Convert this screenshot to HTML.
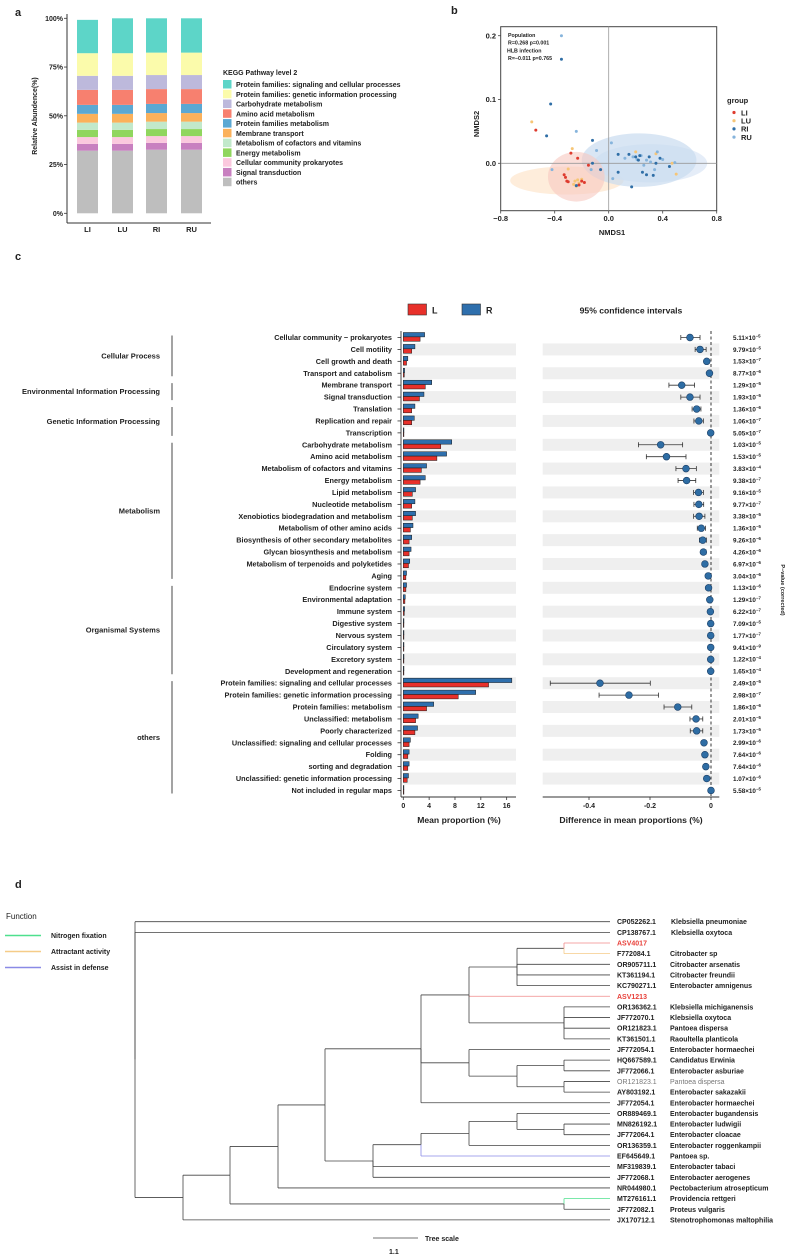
<!DOCTYPE html>
<html><head><meta charset="utf-8">
<style>
html,body{margin:0;padding:0;background:#fff;}
svg{display:block;font-family:"Liberation Sans",Arial,sans-serif;}
text{fill:#222;}
</style></head>
<body>
<svg id="fig" xmlns="http://www.w3.org/2000/svg" width="790" height="1259" viewBox="0 0 790 1259">
<text x="15" y="16" font-size="11" font-weight="bold">a</text>
<text x="451" y="14" font-size="11" font-weight="bold">b</text>
<text x="15" y="260" font-size="11" font-weight="bold">c</text>
<text x="15" y="888" font-size="11" font-weight="bold">d</text>
<g id="pa"></g>
<g id="pb"></g>
<g id="pc"></g>
<g id="pd"></g>
</svg>
<script>
// ---------- Panel a data ----------
const groupsA = ['LI','LU','RI','RU'];
const pathwaysA = ['Protein families: signaling and cellular processes','Protein families: genetic information processing','Carbohydrate metabolism','Amino acid metabolism','Protein families metabolism','Membrane transport','Metabolism of cofactors and vitamins','Energy metabolism','Cellular community prokaryotes','Signal transduction','others'];
const colorsA = ['#5dd5c8','#fbfbab','#bdb9dc','#f7806f','#5ba8d3','#fbb15b','#c2e9cb','#90d65e','#fbc8de','#c880c0','#bebebe'];
const valsLI = [17.1,11.6,7.2,7.7,4.6,4.5,3.7,3.7,3.5,3.5,32.1];
const valsLU = [17.9,11.6,7.2,7.7,4.6,4.5,3.7,3.7,3.5,3.5,32.1];
const valsRI = [17.6,11.5,7.2,7.6,4.7,4.4,3.8,3.6,3.5,3.5,32.6];
const valsRU = [17.6,11.5,7.2,7.6,4.7,4.4,3.8,3.6,3.5,3.5,32.6];
const ticksA = [0,25,50,75,100];

// ---------- Panel b data ----------
const liX=[-0.54,-0.28,-0.33,-0.32,-0.30,-0.20,-0.18,-0.23,-0.15,-0.31,-0.22];
const liY=[0.052,0.016,-0.018,-0.022,-0.029,-0.028,-0.030,0.008,-0.003,-0.028,-0.034];
const luX=[-0.57,-0.27,-0.25,-0.22,-0.26,-0.20,0.50,0.35,0.47,-0.30,-0.24,-0.23,0.20];
const luY=[0.065,0.023,-0.028,-0.031,-0.033,-0.025,-0.017,0.015,0.000,-0.009,-0.036,-0.026,0.018];
const riX=[-0.35,-0.43,-0.46,-0.12,0.07,0.15,0.20,0.22,0.25,0.28,0.33,0.17,0.07,-0.06,0.45,0.38,0.35,-0.12,-0.24,0.30,0.23];
const riY=[0.163,0.093,0.043,0.036,0.014,0.014,0.010,0.005,-0.014,-0.018,-0.019,-0.037,-0.014,-0.010,-0.005,0.008,0.000,0.000,-0.035,0.010,0.012];
const ruX=[-0.35,-0.24,-0.09,0.02,0.03,-0.42,-0.13,0.18,0.24,0.28,0.31,0.36,0.40,0.49,0.26,0.21,0.34,0.12];
const ruY=[0.200,0.050,0.020,0.032,-0.024,-0.010,-0.010,0.010,0.012,0.005,0.002,0.018,0.006,0.001,-0.003,0.006,-0.010,0.008];
const ticksBX=[-0.8,-0.4,0.0,0.4,0.8];
const ticksBY=[0.0,0.1,0.2];

// ---------- Panel c data ----------
const pathwaysC=['Cellular community \u2212 prokaryotes','Cell motility','Cell growth and death','Transport and catabolism','Membrane transport','Signal transduction','Translation','Replication and repair','Transcription','Carbohydrate metabolism','Amino acid metabolism','Metabolism of cofactors and vitamins','Energy metabolism','Lipid metabolism','Nucleotide metabolism','Xenobiotics biodegradation and metabolism','Metabolism of other amino acids','Biosynthesis of other secondary metabolites','Glycan biosynthesis and metabolism','Metabolism of terpenoids and polyketides','Aging','Endocrine system','Environmental adaptation','Immune system','Digestive system','Nervous system','Circulatory system','Excretory system','Development and regeneration','Protein families: signaling and cellular processes','Protein families: genetic information processing','Protein families: metabolism','Unclassified: metabolism','Poorly characterized','Unclassified: signaling and cellular processes','Folding','sorting and degradation','Unclassified: genetic information processing','Not included in regular maps'];
const propR=[3.3,1.8,0.7,0.2,4.4,3.2,1.8,1.7,0.1,7.5,6.7,3.6,3.4,1.9,1.8,1.9,1.5,1.3,1.2,1.0,0.5,0.5,0.3,0.2,0.1,0.1,0.1,0.1,0.1,16.8,11.2,4.7,2.3,2.2,1.1,0.9,0.9,0.8,0.05];
const propL=[2.6,1.3,0.5,0.15,3.4,2.5,1.3,1.3,0.08,5.8,5.2,2.8,2.6,1.4,1.3,1.4,1.1,0.9,0.9,0.8,0.4,0.4,0.25,0.15,0.08,0.08,0.08,0.08,0.08,13.2,8.5,3.6,1.9,1.8,0.9,0.7,0.7,0.6,0.04];
const diffC=[-0.069,-0.036,-0.014,-0.005,-0.096,-0.069,-0.047,-0.040,-0.001,-0.165,-0.146,-0.082,-0.080,-0.041,-0.040,-0.039,-0.032,-0.027,-0.025,-0.020,-0.009,-0.008,-0.004,-0.002,-0.001,-0.001,-0.001,-0.001,-0.001,-0.364,-0.269,-0.109,-0.049,-0.047,-0.023,-0.020,-0.017,-0.014,0.000];
const ciLo=[-0.099,-0.052,-0.019,-0.008,-0.138,-0.099,-0.062,-0.056,-0.003,-0.238,-0.212,-0.115,-0.108,-0.057,-0.056,-0.057,-0.045,-0.038,-0.033,-0.026,-0.013,-0.012,-0.007,-0.004,-0.003,-0.003,-0.003,-0.003,-0.003,-0.527,-0.367,-0.154,-0.069,-0.068,-0.030,-0.026,-0.023,-0.020,-0.002];
const ciHi=[-0.036,-0.016,-0.009,-0.002,-0.054,-0.036,-0.033,-0.025,0.001,-0.093,-0.082,-0.048,-0.050,-0.025,-0.024,-0.020,-0.018,-0.015,-0.016,-0.014,-0.005,-0.004,-0.001,0.001,0.001,0.001,0.001,0.001,0.001,-0.199,-0.172,-0.063,-0.027,-0.027,-0.016,-0.014,-0.012,-0.009,0.002];
const pMant=['5.11','9.79','1.53','8.77','1.29','1.93','1.36','1.06','5.05','1.03','1.53','3.83','9.38','9.16','9.77','3.38','1.36','9.26','4.26','6.97','3.04','1.13','1.29','6.22','7.09','1.77','9.41','1.22','1.65','2.49','2.98','1.86','2.01','1.73','2.99','7.64','7.64','1.07','5.58'];
const pExp=['5','5','7','6','5','5','6','7','7','5','5','4','7','5','7','5','5','6','6','6','6','6','7','7','5','7','9','4','4','5','7','6','5','5','6','6','6','6','5'];
const ticksBar=[0,4,8,12,16];
const ticksDiff=[-0.4,-0.2,0];
const catNames=['Cellular Process','Environmental Information Processing','Genetic Information Processing','Metabolism','Organismal Systems','others'];
const catStart=[0,4,6,9,21,29];
const catEnd=[3,5,8,20,28,38];

// ---------- Panel d data ----------
const leafAcc=['CP052262.1','CP138767.1','ASV4017','F772084.1','OR905711.1','KT361194.1','KC790271.1','ASV1213','OR136362.1','JF772070.1','OR121823.1','KT361501.1','JF772054.1','HQ667589.1','JF772066.1','OR121823.1','AY803192.1','JF772054.1','OR889469.1','MN826192.1','JF772064.1','OR136359.1','EF645649.1','MF319839.1','JF772068.1','NR044980.1','MT276161.1','JF772082.1','JX170712.1'];
const leafSp=['Klebsiella pneumoniae','Klebsiella oxytoca','','Citrobacter sp','Citrobacter arsenatis','Citrobacter freundii','Enterobacter amnigenus','','Klebsiella michiganensis','Klebsiella oxytoca','Pantoea dispersa','Raoultella planticola','Enterobacter hormaechei','Candidatus Erwinia','Enterobacter asburiae','Pantoea dispersa','Enterobacter sakazakii','Enterobacter hormaechei','Enterobacter bugandensis','Enterobacter ludwigii','Enterobacter cloacae','Enterobacter roggenkampii','Pantoea sp.','Enterobacter tabaci','Enterobacter aerogenes','Pectobacterium atrosepticum','Providencia rettgeri','Proteus vulgaris','Stenotrophomonas maltophilia'];
const leafBranchColor={2:'#f08a8a',3:'#f5cc88',7:'#f08a8a',22:'#8a8ae6',26:'#4ee08e'};

const NS='http://www.w3.org/2000/svg';
function mk(tag,attrs,parent,txt){const e=document.createElementNS(NS,tag);for(const k in attrs)e.setAttribute(k,attrs[k]);if(txt!==undefined)e.textContent=txt;parent.appendChild(e);return e;}

// ================= Panel a =================
(function(){
 const g=document.getElementById('pa');
 const y0=213.3, yTop=18.3, sy=(y0-yTop)/100;
 const yS=v=>y0-v*sy;
 const bx=[77,112,146,181], bw=21;
 const ax=mk('line',{x1:67,y1:14,x2:67,y2:223,stroke:'#333','stroke-width':1},g);
 
 
 const axx=mk('line',{x1:67,y1:223,x2:211,y2:223,stroke:'#333','stroke-width':1},g);
 
 
 ticksA.forEach(t=>{
  const tk=mk('line',{x1:64,y1:yS(t),x2:67,y2:yS(t),stroke:'#333','stroke-width':0.8},g);
  
  
  const tl=mk('text',{x:63,y:yS(t)+2.5,'font-size':7,'font-weight':'bold','text-anchor':'end'},g,t+'%');
  
  
 });
 const all=[valsLI,valsLU,valsRI,valsRU];
 all.forEach((vals,gi)=>{
  let cum=0;
  for(let k=vals.length-1;k>=0;k--){
   const r=mk('rect',{x:bx[gi],y:yS(cum+vals[k]),width:bw,height:vals[k]*sy,fill:colorsA[k]},g);
   
   
   cum+=vals[k];
  }
  const xl=mk('text',{x:bx[gi]+bw/2,y:232,'font-size':7.5,'font-weight':'bold','text-anchor':'middle'},g,groupsA[gi]);
  
  
 });
 const yt=mk('text',{x:0,y:0,'font-size':7,'font-weight':'bold','text-anchor':'middle',transform:'translate(37,116) rotate(-90)'},g,'Relative Abundence(%)');
 
 
 const lt=mk('text',{x:223,y:75,'font-size':7,'font-weight':'bold'},g,'KEGG Pathway level 2');
 
 
 pathwaysA.forEach((p,i)=>{
  const cy=84.5+i*9.77;
  const sq=mk('rect',{x:223,y:cy-4.5,width:8.5,height:8.5,fill:colorsA[i]},g);
  
  
  const t=mk('text',{x:236,y:cy+2.5,'font-size':7,'font-weight':'bold'},g,p);
  
  
 });
})();

// ================= Panel b =================
(function(){
 const g=document.getElementById('pb');
 const X=v=>608.7+v*135, Y=v=>163.3-v*638;
 const ell=[[-0.31,-0.027,0.42,0.022,'#fde6cc',0.7],[0.31,0.0,0.42,0.03,'#dfe9f6',0.8],[0.225,0.005,0.425,0.042,'#c9dcf0',0.7],[-0.24,-0.021,0.21,0.039,'#f7c8c0',0.6]];
 ell.forEach(e=>{
  const el=mk('ellipse',{cx:X(e[0]),cy:Y(e[1]),rx:e[2]*135,ry:e[3]*638,fill:e[4],'fill-opacity':e[5]},g);
  
  
 });
 const box=mk('rect',{x:500.7,y:26.7,width:216,height:184,fill:'none',stroke:'#444','stroke-width':1},g);
 
 
 const vl=mk('line',{x1:X(0),y1:26.7,x2:X(0),y2:210.7,stroke:'#999','stroke-width':0.8},g);
 
 
 const hl=mk('line',{x1:500.7,y1:Y(0),x2:716.7,y2:Y(0),stroke:'#999','stroke-width':0.8},g);
 
 
 const sets=[[luX,luY,'#f6c576','LU'],[ruX,ruY,'#86b4dc','RU'],[liX,liY,'#de3b2f','LI'],[riX,riY,'#2f6ea6','RI']];
 sets.forEach(s=>{
  s[0].forEach((xv,i)=>{
   const c=mk('circle',{cx:X(xv),cy:Y(s[1][i]),r:1.5,fill:s[2]},g);
   
   
  });
 });
 ticksBX.forEach(t=>{
  const tk=mk('line',{x1:X(t),y1:210.7,x2:X(t),y2:213.5,stroke:'#444','stroke-width':0.8},g);
  
  
  const tl=mk('text',{x:X(t),y:221,'font-size':7.5,'font-weight':'bold','text-anchor':'middle'},g,(t<0?'\u2212':'')+Math.abs(t).toFixed(1));
  
  
 });
 ticksBY.forEach(t=>{
  const tk=mk('line',{x1:498,y1:Y(t),x2:500.7,y2:Y(t),stroke:'#444','stroke-width':0.8},g);
  
  
  const tl=mk('text',{x:496,y:Y(t)+2.6,'font-size':7.5,'font-weight':'bold','text-anchor':'end'},g,t.toFixed(1));
  
  
 });
 const xt=mk('text',{x:612,y:235,'font-size':7.5,'font-weight':'bold','text-anchor':'middle'},g,'NMDS1');
 
 
 const yt=mk('text',{x:0,y:0,'font-size':7.5,'font-weight':'bold','text-anchor':'middle',transform:'translate(479,124) rotate(-90)'},g,'NMDS2');
 
 
 const ann=['Population','R=0.268   p=0.001','HLB infection','R=\u22120.011 p=0.765'];
 const annX=[508,508,507,508];
 ann.forEach((a,i)=>{
  const t=mk('text',{x:annX[i],y:37+i*7.7,'font-size':5.3,'font-weight':'bold'},g,a);
  
  
 });
 const gt=mk('text',{x:727,y:103,'font-size':7.5,'font-weight':'bold'},g,'group');
 
 
 const lg=[['LI','#de3b2f'],['LU','#f6c576'],['RI','#2f6ea6'],['RU','#86b4dc']];
 lg.forEach((l,i)=>{
  const cy=112.5+i*8.2;
  const c=mk('circle',{cx:734,cy:cy,r:1.6,fill:l[1]},g);
  
  
  const t=mk('text',{x:741,y:cy+2.8,'font-size':7.5,'font-weight':'bold'},g,l[0]);
  
  
 });
})();

// ================= Panel c =================
(function(){
 const g=document.getElementById('pc');
 const rowY=i=>337.5+i*11.92;
 const bX=v=>403.3+v*6.46;
 const dX=v=>711+v*305;
 pathwaysC.forEach((p,i)=>{
  if(i%2===1){
   const b1=mk('rect',{x:403,y:rowY(i)-6,width:113,height:12,fill:'#efefef'},g);
   
   
   const b2=mk('rect',{x:542.7,y:rowY(i)-6,width:176.6,height:12,fill:'#efefef'},g);
   
   
  }
 });
 const ya=mk('line',{x1:401,y1:331,x2:401,y2:797,stroke:'#333','stroke-width':0.9},g);
 
 
 const xa=mk('line',{x1:401,y1:797,x2:516,y2:797,stroke:'#333','stroke-width':0.9},g);
 
 
 const xa2=mk('line',{x1:542.7,y1:797,x2:719.3,y2:797,stroke:'#333','stroke-width':0.9},g);
 
 
 const dl=mk('line',{x1:dX(0),y1:331,x2:dX(0),y2:797,stroke:'#222','stroke-width':0.9,'stroke-dasharray':'3,2.5'},g);
 
 
 pathwaysC.forEach((p,i)=>{
  const y=rowY(i);
  const tk=mk('line',{x1:397.5,y1:y,x2:401,y2:y,stroke:'#333','stroke-width':0.8},g);
  
  
  const lb=mk('text',{x:392,y:y+2.5,'font-size':7.3,'font-weight':'bold','text-anchor':'end'},g,p);
  
  
  const rb=mk('rect',{x:bX(0),y:y-5,width:Math.max(propR[i]*6.46,0.6),height:4.4,fill:'#2e6fad',stroke:'#1b1b1b','stroke-width':0.5},g);
  
  
  const lbar=mk('rect',{x:bX(0),y:y-0.6,width:Math.max(propL[i]*6.46,0.6),height:4.4,fill:'#e8302a',stroke:'#1b1b1b','stroke-width':0.5},g);
  
  
  const ci=mk('line',{x1:dX(ciLo[i]),y1:y,x2:dX(ciHi[i]),y2:y,stroke:'#333','stroke-width':0.8},g);
  
  
  const c1=mk('line',{x1:dX(ciLo[i]),y1:y-2.5,x2:dX(ciLo[i]),y2:y+2.5,stroke:'#333','stroke-width':0.8},g);
  
  
  const c2=mk('line',{x1:dX(ciHi[i]),y1:y-2.5,x2:dX(ciHi[i]),y2:y+2.5,stroke:'#333','stroke-width':0.8},g);
  
  
  const pt=mk('circle',{cx:dX(diffC[i]),cy:y,r:3.4,fill:'#2e6da4',stroke:'#1c3f66','stroke-width':0.6},g);
  
  
  const pv=mk('text',{x:733,y:y+2.4,'font-size':6.3,'font-weight':'bold'},g);
  
  
  const s1=mk('tspan',{},pv,pMant[i]+'\u00d710');
  const s2=mk('tspan',{dy:-2.5,'font-size':4.3},pv,'\u2212'+pExp[i]);
 });
 ticksBar.forEach(t=>{
  const tk=mk('line',{x1:bX(t),y1:797,x2:bX(t),y2:800,stroke:'#333','stroke-width':0.8},g);
  
  
  const tl=mk('text',{x:bX(t),y:808,'font-size':7,'font-weight':'bold','text-anchor':'middle'},g,String(t));
  
  
 });
 ticksDiff.forEach(t=>{
  const tk=mk('line',{x1:dX(t),y1:797,x2:dX(t),y2:800,stroke:'#333','stroke-width':0.8},g);
  
  
  const tl=mk('text',{x:dX(t),y:808,'font-size':7,'font-weight':'bold','text-anchor':'middle'},g,t===0?'0':'-'+Math.abs(t).toFixed(1));
  
  
 });
 catNames.forEach((c,k)=>{
  const y1=rowY(catStart[k])-2, y2=rowY(catEnd[k])+3;
  const ln=mk('line',{x1:172,y1:y1,x2:172,y2:y2,stroke:'#333','stroke-width':0.9},g);
  
  
  const t=mk('text',{x:160,y:(y1+y2)/2+2.5,'font-size':7.5,'font-weight':'bold','text-anchor':'end'},g,c);
  
  
 });
})();
</script>
<script>
(function(){
 const g=document.getElementById('pc');
 const items=[
  ['rect',{x:408,y:304,width:18.5,height:11,fill:'#e8302a',stroke:'#333','stroke-width':0.6},'c-legend-swatch-L'],
  ['rect',{x:462,y:304,width:18.5,height:11,fill:'#2e6fad',stroke:'#333','stroke-width':0.6},'c-legend-swatch-R']];
 items.forEach(it=>{
  const e=mk(it[0],it[1],g);
  
  
 });
 const tL=mk('text',{x:432,y:313.5,'font-size':9,'font-weight':'bold'},g,'L');
 
 
 const tR=mk('text',{x:486,y:313.5,'font-size':9,'font-weight':'bold'},g,'R');
 
 
 const ci=mk('text',{x:631,y:313.5,'font-size':8.6,'font-weight':'bold','text-anchor':'middle'},g,'95% confidence intervals');
 
 
 const xt1=mk('text',{x:459,y:823,'font-size':8.6,'font-weight':'bold','text-anchor':'middle'},g,'Mean proportion (%)');
 
 
 const xt2=mk('text',{x:631,y:823,'font-size':8.6,'font-weight':'bold','text-anchor':'middle'},g,'Difference in mean proportions (%)');
 
 
 const pv=mk('text',{x:0,y:0,'font-size':5.5,'font-weight':'bold','text-anchor':'middle',transform:'translate(781,590) rotate(90)'},g,'P\u2212value (corrected)');
 
 
})();

// ================= Panel d =================
(function(){
 const g=document.getElementById('pd');
 const leafY=i=>921.7+i*10.65;
 const leafEnd=610;
 const tree={x:135,c:[0,1,{x:183,c:[{x:230,c:[{x:278,c:[{x:325,c:[
   {x:421,c:[{x:469,c:[{x:517,c:[{x:564,c:[2,3]},4,5,6]},7,{x:564,c:[8,9,10,11]}]},{x:469,c:[12,{x:517,c:[{x:564,c:[13,14]},{x:564,c:[15,16]}]}]},17]},
   {x:373,c:[{x:421,c:[{x:469,c:[{x:517,c:[18,{x:564,c:[19,20]}]},21]},22]},23,24]}
  ]},25]},{x:564,c:[26,27]}]},28]}]};
 function yOf(n){ if(typeof n==='number') return leafY(n); const a=yOf(n.c[0]), b=yOf(n.c[n.c.length-1]); return (a+b)/2; }
 function colOf(n){ return (typeof n==='number' && leafBranchColor[n])?leafBranchColor[n]:'#444'; }
 function draw(n){
  const ny=yOf(n);
  n.c.forEach(ch=>{
   const cy=yOf(ch), col=colOf(ch);
   const x2=(typeof ch==='number')?leafEnd:ch.x;
   const v=mk('line',{x1:n.x,y1:ny,x2:n.x,y2:cy,stroke:col,'stroke-width':0.8},g);
   
   
   const h=mk('line',{x1:n.x,y1:cy,x2:x2,y2:cy,stroke:col,'stroke-width':0.8},g);
   
   
   if(typeof ch!=='number') draw(ch);
  });
 }
 draw(tree);
 leafAcc.forEach((a,i)=>{
  const y=leafY(i)+2.5;
  const isAsv=a.indexOf('ASV')===0, gray=(i===15);
  const t=mk('text',{x:617,y:y,'font-size':7,'font-weight':gray?'normal':'bold'},g,a);
  
  
  if(isAsv) t.style.fill='#e8403a';
  if(gray) t.style.fill='#777';
  if(leafSp[i]){
   const s=mk('text',{x:(i<2?671:670),y:y,'font-size':7,'font-weight':gray?'normal':'bold'},g,leafSp[i]);
   
   
   if(gray) s.style.fill='#777';
  }
 });
 const ft=mk('text',{x:6,y:919,'font-size':8,'font-weight':'normal'},g,'Function');
 
 
 const fn=[['Nitrogen fixation','#4ee08e'],['Attractant activity','#f5cc88'],['Assist in defense','#8a8ae6']];
 fn.forEach((f,i)=>{
  const y=935.5+i*16;
  const l=mk('line',{x1:5,y1:y,x2:41,y2:y,stroke:f[1],'stroke-width':1.6},g);
  
  
  const t=mk('text',{x:51,y:y+2.5,'font-size':7,'font-weight':'bold'},g,f[0]);
  
  
 });
 const sc=mk('line',{x1:373,y1:1238,x2:418,y2:1238,stroke:'#444','stroke-width':0.8},g);
 
 
 const st=mk('text',{x:425,y:1241,'font-size':7,'font-weight':'bold'},g,'Tree scale');
 
 
 const sv=mk('text',{x:389,y:1254,'font-size':7,'font-weight':'bold'},g,'1.1');
 
 
})();
</script>
</body></html>
